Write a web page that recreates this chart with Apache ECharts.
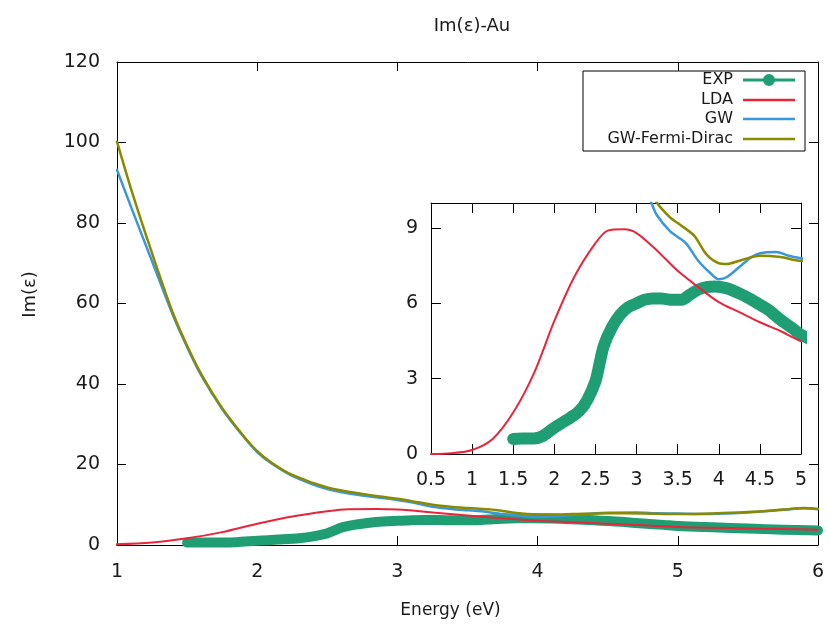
<!DOCTYPE html>
<html>
<head>
<meta charset="utf-8">
<script src="https://cdn.jsdelivr.net/npm/echarts@6/dist/echarts.min.js"></script>
<style>html,body{margin:0;padding:0;background:#fff;}#c{width:830px;height:626px;}</style>
</head>
<body>
<div id="c"></div>
<script>
// ---- data (energy in eV, Im(eps)) ----
const ldaE = [0.5,0.75,1.0,1.25,1.5,1.75,2.0,2.25,2.5,2.65,2.85,3.0,3.25,3.5,3.75,4.0,4.25,4.5,4.75,5.0,5.25,5.5,5.75,6.0];
const ldaV = [0,0.03,0.16,0.6,1.65,3.2,5.3,7.1,8.4,8.9,8.95,8.8,8.1,7.3,6.65,6.05,5.65,5.25,4.9,4.5,4.3,4.1,3.95,3.8];

const expE = [1.5,1.6,1.75,1.85,2.0,2.15,2.3,2.4,2.5,2.55,2.6,2.7,2.8,2.9,3.0,3.1,3.2,3.3,3.4,3.55,3.65,3.75,3.85,3.95,4.1,4.25,4.4,4.5,4.6,4.75,4.9,5.0,5.25,5.5,5.75,6.0];
const expV = [0.6,0.62,0.62,0.7,1.05,1.35,1.7,2.15,2.9,3.6,4.3,5.05,5.55,5.85,6.0,6.15,6.2,6.2,6.15,6.15,6.35,6.55,6.65,6.67,6.6,6.4,6.15,5.95,5.75,5.35,5.0,4.75,4.4,4.1,3.8,3.6];

const gwE = [1.0,1.1,1.25,1.4,1.5,1.6,1.75,1.9,2.0,2.1,2.25,2.5,2.75,3.0,3.1,3.18,3.25,3.4,3.5,3.6,3.75,3.9,4.0,4.1,4.25,4.4,4.5,4.7,4.85,5.0,5.2,5.4,5.6,5.8,5.9,6.0];
const gwV = [93.2,84.0,70.5,57.0,49.2,42.2,33.8,27.0,23.1,20.3,17.2,13.9,12.3,11.2,10.6,10.0,9.5,8.9,8.65,8.4,7.7,7.2,6.96,7.05,7.45,7.85,8.0,8.05,7.9,7.8,7.7,7.9,8.3,8.9,9.1,8.9];

const gwfdE = [1.0,1.1,1.25,1.4,1.5,1.6,1.75,1.9,2.0,2.1,2.25,2.5,2.75,3.0,3.1,3.25,3.4,3.5,3.7,3.85,4.0,4.1,4.25,4.5,4.75,5.0,5.25,5.5,5.75,5.9,6.0];
const gwfdV = [100.2,88.5,72.5,57.5,49.5,42.5,34.0,27.2,23.3,20.5,17.4,14.3,12.7,11.5,10.9,10.0,9.45,9.2,8.7,7.95,7.6,7.57,7.7,7.9,7.85,7.7,7.85,8.2,8.8,9.2,8.95];

const names = ['EXP','LDA','GW','GW-Fermi-Dirac'];
const colors = ['#1f9e74','#e8253a','#3a97dd','#8a8a00'];

const mainYTicks = [0,20,40,60,80,100,120];
const insetYTicks = [0,3,6,9];

function pairs(xs, ys){ return xs.map((x,i)=>[x, ys[i]]); }

const FONT = 'DejaVu Sans';
const TXT = '#1a1a1a';

function axisBase(show){
  return {
    axisLine:{show:true, onZero:false, lineStyle:{color:'#000', width:1}},
    axisTick:{show:true, inside:true, length:9, lineStyle:{color:'#000', width:1}},
    splitLine:{show:false},
    axisLabel:{show:show, color:TXT, fontFamily:FONT, fontSize:19, margin:14}
  };
}

const chart = echarts.init(document.getElementById('c'), null, {renderer:'canvas'});

const xAxis = [
  Object.assign(axisBase(true), {type:'value', gridIndex:0, min:1, max:6, interval:1, position:'bottom',
    name:'Energy (eV)', nameLocation:'middle', nameGap:57,
    nameTextStyle:{color:TXT, fontFamily:FONT, fontSize:17, padding:[0,34,0,0]}}),
  Object.assign(axisBase(false), {type:'value', gridIndex:0, min:1, max:6, interval:1, position:'top'}),
  Object.assign(axisBase(true), {type:'value', gridIndex:1, min:0.5, max:5, interval:0.5, position:'bottom'}),
  Object.assign(axisBase(false), {type:'value', gridIndex:1, min:0.5, max:5, interval:0.5, position:'top'})
];
xAxis[0].axisLabel.margin = 18;
xAxis[2].axisLabel.margin = 17; xAxis[2].axisTick.length = 10; xAxis[3].axisTick.length = 10;

const yAxis = [
  Object.assign(axisBase(true), {type:'value', gridIndex:0, min:0, max:120, interval:20, position:'left',
    name:'Im(ε)', nameLocation:'middle', nameGap:78, nameRotate:90,
    nameTextStyle:{color:TXT, fontFamily:FONT, fontSize:18, padding:[0,0,0,18]}}),
  Object.assign(axisBase(false), {type:'value', gridIndex:0, min:0, max:120, interval:20, position:'right'}),
  Object.assign(axisBase(true), {type:'value', gridIndex:1, min:0, max:10, interval:3, position:'left'}),
  Object.assign(axisBase(false), {type:'value', gridIndex:1, min:0, max:10, interval:3, position:'right'})
];
yAxis[0].axisLabel.margin = 17;
yAxis[0].axisLabel.formatter = v => mainYTicks.indexOf(v) >= 0 ? String(v) : '';
yAxis[2].axisLabel.formatter = v => insetYTicks.indexOf(v) >= 0 ? String(v) : '';
yAxis[2].axisLabel.margin = 13;
yAxis[2].axisTick.length = 10; yAxis[3].axisTick.length = 10;

function lineSeries(name, data, color, width, xi, yi, z){
  return {name:name, type:'line', data:data, xAxisIndex:xi, yAxisIndex:yi,
    showSymbol:false, symbol:'none', smooth:0.3, clip:true, z:z,
    lineStyle:{color:color, width:width, cap:'round', join:'round'}, itemStyle:{color:color},
    emphasis:{disabled:true}, animation:false};
}

const series = [];
[[0,0],[2,2]].forEach(([xi,yi], k)=>{
  series.push(lineSeries('EXP', pairs(expE,expV), colors[0], k===0?10:12, xi, yi, 2));
  series.push(lineSeries('LDA', pairs(ldaE,ldaV), colors[1], 2, xi, yi, 3));
  series.push(lineSeries('GW', pairs(gwE,gwV), colors[2], 2.5, xi, yi, 4));
  series.push(lineSeries('GW-Fermi-Dirac', pairs(gwfdE,gwfdV), colors[3], 2.5, xi, yi, 5));
});

const lineIcon = 'path://M0,4.75 L52,4.75 L52,7.25 L0,7.25 Z';
const expIcon = 'path://M0,4.6 L52,4.6 L52,7.4 L0,7.4 Z M20,6 A6,6 0 1,1 32,6 A6,6 0 1,1 20,6 Z';
const legendCenters = [82, 102, 121, 141];
const legends = names.map((n,i)=>({
  show:true, orient:'vertical', right:35, top:legendCenters[i]-10, align:'right',
  itemWidth:52, itemHeight:12, padding:0, selectedMode:false,
  textStyle:{color:TXT, fontFamily:FONT, fontSize:16, padding:[0,5,0,0]},
  data:[{name:n, icon: i===0 ? expIcon : lineIcon, itemStyle:{color:colors[i]}}],
  z:10
}));

chart.setOption({
  animation:false,
  backgroundColor:'#fff',
  title:{text:'Im(ε)-Au', left:467, textAlign:'center', top:12,
    textStyle:{color:TXT, fontFamily:FONT, fontSize:18, fontWeight:'normal'}},
  grid:[
    {left:117, top:62, width:701, height:483, show:false},
    {left:431, top:203, width:370, height:251, show:false}
  ],
  legend:legends,
  graphic:[{type:'rect', shape:{x:583, y:71, width:222, height:80}, style:{fill:'#fff', stroke:'#000', lineWidth:1}, z:5}],
  xAxis:xAxis,
  yAxis:yAxis,
  series:series
});
</script>
</body>
</html>
